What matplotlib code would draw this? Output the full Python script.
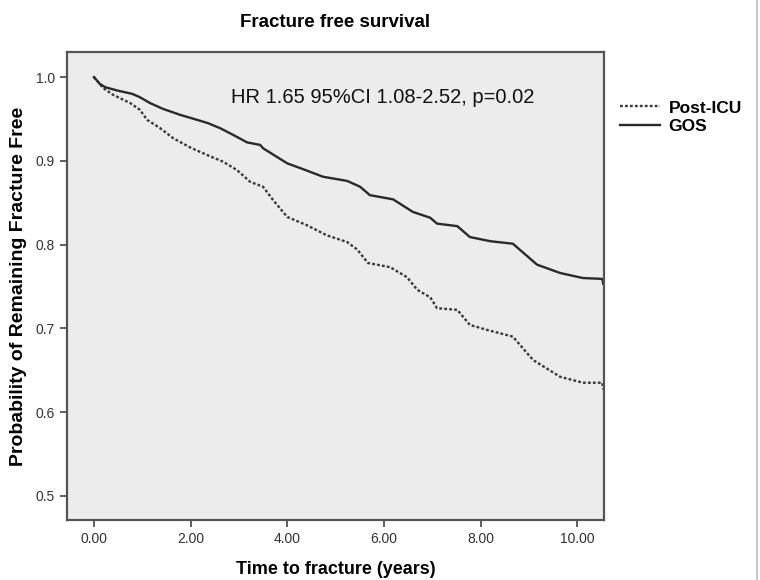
import matplotlib
matplotlib.use("Agg")
import numpy as np
import matplotlib.pyplot as plt
from matplotlib.lines import Line2D

plt.rcParams['font.family'] = ['Liberation Sans', 'DejaVu Sans']

# Kaplan-Meier style estimates
gos_time = [0.0, 0.12, 0.23, 0.48, 0.79, 0.95, 1.16, 1.43, 1.78, 2.13, 2.36, 2.61, 2.88,
            3.17, 3.44, 3.50, 4.00, 4.33, 4.74, 5.24, 5.51, 5.71, 6.19, 6.60, 6.96,
            7.10, 7.52, 7.78, 8.20, 8.67, 9.17, 9.65, 10.12, 10.52, 10.54]
gos_surv = [1.0, 0.992, 0.988, 0.984, 0.980, 0.976, 0.969, 0.962, 0.955, 0.949, 0.945, 0.939, 0.931,
            0.922, 0.919, 0.915, 0.897, 0.890, 0.881, 0.876, 0.869, 0.859, 0.854, 0.839, 0.832,
            0.825, 0.822, 0.809, 0.804, 0.801, 0.776, 0.766, 0.760, 0.759, 0.753]

icu_time = [0.0, 0.19, 0.39, 0.75, 0.95, 1.10, 1.37, 1.64, 1.99, 2.34, 2.67, 2.96, 3.23,
            3.50, 3.71, 4.00, 4.41, 4.82, 5.24, 5.45, 5.67, 6.13, 6.48, 6.69, 6.96,
            7.10, 7.52, 7.78, 8.14, 8.67, 9.09, 9.65, 10.12, 10.52, 10.54]
icu_surv = [1.0, 0.987, 0.979, 0.969, 0.961, 0.949, 0.939, 0.927, 0.916, 0.907, 0.899, 0.889, 0.875,
            0.869, 0.853, 0.833, 0.823, 0.811, 0.803, 0.794, 0.778, 0.773, 0.761, 0.746, 0.737,
            0.724, 0.722, 0.704, 0.698, 0.690, 0.662, 0.642, 0.635, 0.635, 0.627]

x_ticks = [0, 2, 4, 6, 8, 10]
x_labels = ["0.00", "2.00", "4.00", "6.00", "8.00", "10.00"]
y_ticks = [0.5, 0.6, 0.7, 0.8, 0.9, 1.0]
y_labels = ["0.5", "0.6", "0.7", "0.8", "0.9", "1.0"]

fig = plt.figure(figsize=(7.6, 5.8), dpi=100)
ax = fig.add_axes([0.088, 0.1034, 0.707, 0.807])
ax.set_facecolor('#ececec')

icu_line, = ax.plot(icu_time, icu_surv, color='#3a3a3a',
                    lw=1.7, linestyle=(0, (1.2, 0.9)))
gos_line, = ax.plot(gos_time, gos_surv, color='#2a2a2a', lw=1.7)

ax.set_xlim(-0.56, 10.56)
ax.set_ylim(0.471, 1.03)
ax.set_xticks(x_ticks)
ax.set_xticklabels(x_labels)
ax.set_yticks(y_ticks)
ax.set_yticklabels(y_labels)
ax.tick_params(direction='out', length=5, width=1.2, color='#444', labelsize=10,
               labelcolor='#333')

for s in ax.spines.values():
    s.set_color('#555')
    s.set_linewidth(1.6)

ax.text(5.98, 0.976, "HR 1.65 95%CI 1.08-2.52, p=0.02", ha='center', va='center',
        fontsize=14.5, color='#111')

ax.set_title("Fracture free survival", fontsize=13.5, fontweight='bold', pad=18)
ax.set_xlabel("Time to fracture (years)", fontsize=13, fontweight='bold', labelpad=11)
ax.set_ylabel("Probability of Remaining Fracture Free", fontsize=14, fontweight='bold',
              labelpad=6)

leg = ax.legend([icu_line, gos_line], ["Post-ICU", "GOS"], loc='upper left',
                bbox_to_anchor=(1.0, 0.93), frameon=False, handlelength=2.3,
                handletextpad=0.5, labelspacing=0.2, prop={'weight': 'bold', 'size': 12.5})

# faint border line at the right edge of the original image
fig.add_artist(Line2D([0.996, 0.996], [0.0, 1.0], transform=fig.transFigure,
                      color='#bbbbbb', lw=1.2))

fig.savefig("out.png", dpi=100)
